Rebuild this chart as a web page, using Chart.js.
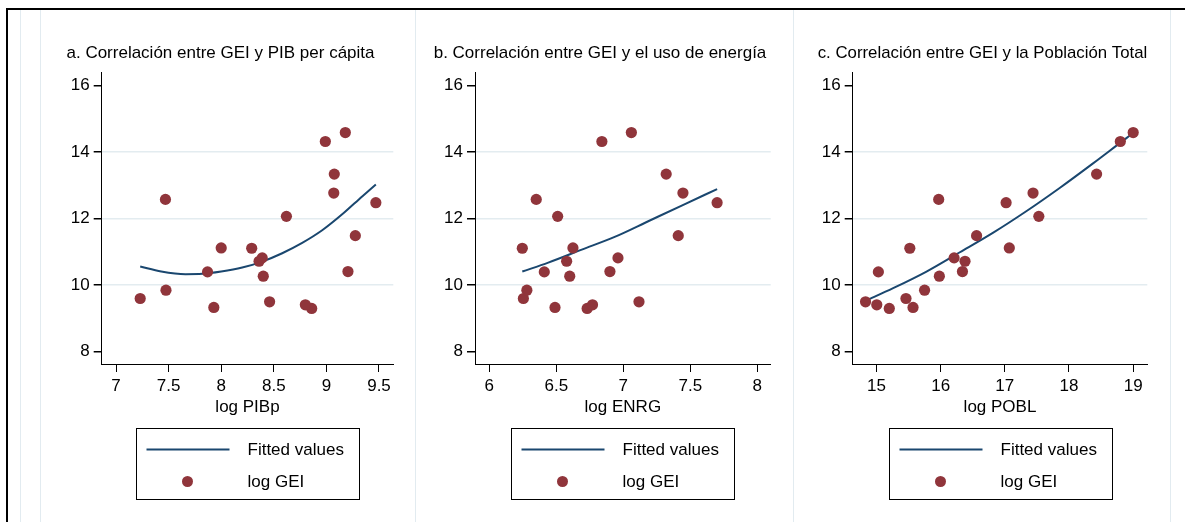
<!DOCTYPE html>
<html>
<head>
<meta charset="utf-8">
<script src="https://cdn.jsdelivr.net/npm/chart.js@4.4.0/dist/chart.umd.min.js"></script>
<style>
    body { margin: 0; background: #fff; width: 1185px; height: 522px; overflow: hidden; position: relative; }
    #frame { position: absolute; left: 6px; top: 8px; width: 1190px; height: 530px; border-top: 2px solid #000; border-left: 2px solid #000; }
    .vline { position: absolute; top: 10px; bottom: 0; width: 1px; background: #e2ebf0; }
    .panel { position: absolute; top: 10px; height: 512px; }
</style>
</head>
<body>
<div id="frame"></div>
<div class="vline" style="left:20px"></div>
<div class="vline" style="left:40px"></div>
<div class="vline" style="left:415px"></div>
<div class="vline" style="left:793px"></div>
<div class="vline" style="left:1170px"></div>
<div class="panel" style="left:40px;width:375px"><canvas id="chartPIB" width="375" height="512"></canvas></div>
<div class="panel" style="left:415px;width:378px"><canvas id="chartENRG" width="378" height="512"></canvas></div>
<div class="panel" style="left:793px;width:377px"><canvas id="chartPOBL" width="377" height="512"></canvas></div>
<script>
// log GEI, same countries in all three panels
const logGEI = [9.29, 9.32, 9.40, 9.49, 9.59, 9.84, 10.26, 10.39, 10.40, 10.71, 10.81, 11.10, 11.11, 11.48, 12.06, 12.47, 12.57, 12.76, 13.33, 14.31, 14.58];
const logPIBp = [8.86, 7.93, 8.80, 8.46, 7.23, 7.475, 8.40, 7.87, 9.205, 8.36, 8.39, 8.29, 8.00, 9.275, 8.62, 9.47, 7.47, 9.07, 9.075, 8.99, 9.18];
const logENRG = [6.73, 6.49, 6.77, 7.117, 6.254, 6.28, 6.60, 6.41, 6.90, 6.577, 6.96, 6.246, 6.624, 7.41, 6.51, 7.70, 6.35, 7.445, 7.32, 6.84, 7.06];
const logPOBL = [15.20, 15.57, 15.005, 14.83, 15.46, 15.75, 15.98, 15.03, 16.34, 16.38, 16.21, 15.52, 17.07, 16.56, 17.53, 17.02, 15.97, 17.44, 18.43, 18.80, 19.00];

// fitted values
const fitPIBpX = [7.23, 7.43, 7.66, 7.82, 8.00, 8.20, 8.39, 8.58, 8.77, 8.96, 9.15, 9.34, 9.47];
const fitPIBpY = [10.55, 10.40, 10.32, 10.33, 10.40, 10.52, 10.70, 10.95, 11.26, 11.64, 12.12, 12.66, 13.02];
const fitENRGX = [6.246, 6.44, 6.69, 6.94, 7.19, 7.44, 7.70];
const fitENRGY = [10.40, 10.67, 11.06, 11.45, 11.92, 12.39, 12.88];
const fitPOBLX = [14.83, 15.26, 15.78, 16.30, 16.82, 17.34, 17.86, 18.38, 18.90, 19.00];
const fitPOBLY = [9.52, 9.90, 10.40, 10.98, 11.57, 12.22, 12.92, 13.66, 14.42, 14.56];

const yTicks = [8, 10, 12, 14, 16];
const yGrid = [10, 12, 14];
const pibTicks = [7, 7.5, 8, 8.5, 9, 9.5];
const enrgTicks = [6, 6.5, 7, 7.5, 8];
const poblTicks = [15, 16, 17, 18, 19];

const lineColor = '#1a476f';
const dotColor = '#90353b';

Chart.defaults.font.family = '"Liberation Sans", Arial, sans-serif';
Chart.defaults.font.size = 17;
Chart.defaults.color = '#000';

// stata style legend box under the x axis title
const boxLegend = {
    id: 'boxLegend',
    afterDraw(chart) {
        const ctx = chart.ctx;
        const area = chart.chartArea;
        const w = 223, h = 71;
        const left = Math.round((area.left + area.right) / 2 - w / 2) + 0.5;
        const top = 418.5;
        const sets = chart.data.datasets;
        ctx.save();
        ctx.strokeStyle = '#000';
        ctx.lineWidth = 1;
        ctx.strokeRect(left, top, w, h);
        ctx.strokeStyle = lineColor;
        ctx.lineWidth = 2;
        ctx.beginPath();
        ctx.moveTo(left + 10, top + 21);
        ctx.lineTo(left + 93, top + 21);
        ctx.stroke();
        ctx.fillStyle = dotColor;
        ctx.beginPath();
        ctx.arc(left + 51, top + 53, 5.5, 0, Math.PI * 2);
        ctx.fill();
        ctx.fillStyle = '#000';
        ctx.font = '17px "Liberation Sans", Arial, sans-serif';
        ctx.textBaseline = 'middle';
        ctx.fillText(sets[0].label, left + 111, top + 22);
        ctx.fillText(sets[1].label, left + 111, top + 54);
        ctx.restore();
    }
};

function makePanel(id, title, xTitle, xs, fitX, fitY, xTicks, xMin, xMax, padLeft, axisWidth, padRight) {
    const ctx = document.getElementById(id).getContext('2d');
    return new Chart(ctx, {
        type: 'scatter',
        data: {
            datasets: [{
                label: 'Fitted values',
                data: fitX.map((x, i) => ({ x: x, y: fitY[i] })),
                showLine: true,
                borderColor: lineColor,
                borderWidth: 2,
                pointRadius: 0,
                cubicInterpolationMode: 'monotone',
                order: 1
            }, {
                label: 'log GEI',
                data: xs.map((x, i) => ({ x: x, y: logGEI[i] })),
                backgroundColor: dotColor,
                borderWidth: 0,
                pointRadius: 5.6,
                order: 0
            }]
        },
        options: {
            responsive: false,
            animation: false,
            events: [],
            layout: { padding: { top: 0, left: padLeft, right: padRight, bottom: 104 } },
            plugins: {
                legend: { display: false },
                tooltip: { enabled: false },
                title: {
                    display: true,
                    text: title,
                    color: '#000',
                    font: { size: 17, weight: 'normal' },
                    padding: { top: 33, bottom: 8.6 }
                }
            },
            scales: {
                x: {
                    type: 'linear',
                    min: xMin,
                    max: xMax,
                    afterBuildTicks: s => { s.ticks = xTicks.map(v => ({ value: v })); },
                    afterFit: s => { s.height = 54; },
                    ticks: { padding: 4, maxRotation: 0, callback: v => String(v) },
                    grid: { drawOnChartArea: false, tickLength: 8, tickColor: '#000', color: '#000' },
                    border: { color: '#000', width: 1 },
                    title: { display: true, text: xTitle, color: '#000', font: { size: 17 }, padding: 0 }
                },
                y: {
                    type: 'linear',
                    min: 7.62,
                    max: 16.4,
                    afterBuildTicks: s => { s.ticks = yTicks.map(v => ({ value: v })); },
                    afterFit: s => { s.width = axisWidth; },
                    ticks: { padding: 4, callback: v => String(v) },
                    grid: {
                        tickLength: 8,
                        tickColor: '#000',
                        lineWidth: 1.5,
                        color: c => (c.tick && yGrid.includes(c.tick.value)) ? '#e3ecf0' : 'rgba(0,0,0,0)'
                    },
                    border: { color: '#000', width: 1 }
                }
            }
        },
        plugins: [boxLegend]
    });
}

document.addEventListener('DOMContentLoaded', function() {
    makePanel('chartPIB', 'a. Correlación entre GEI y PIB per cápita', 'log PIBp',
        logPIBp, fitPIBpX, fitPIBpY, pibTicks, 6.864, 9.636, 7.7, 54, 21.7);
    makePanel('chartENRG', 'b. Correlación entre GEI y el uso de energía', 'log ENRG',
        logENRG, fitENRGX, fitENRGY, enrgTicks, 5.893, 8.1, 14.3, 45.7, 22.3);
    makePanel('chartPOBL', 'c. Correlación entre GEI y la Población Total', 'log POBL',
        logPOBL, fitPOBLX, fitPOBLY, poblTicks, 14.63, 19.22, 24.7, 35, 22.7);
});
</script>
</body>
</html>
